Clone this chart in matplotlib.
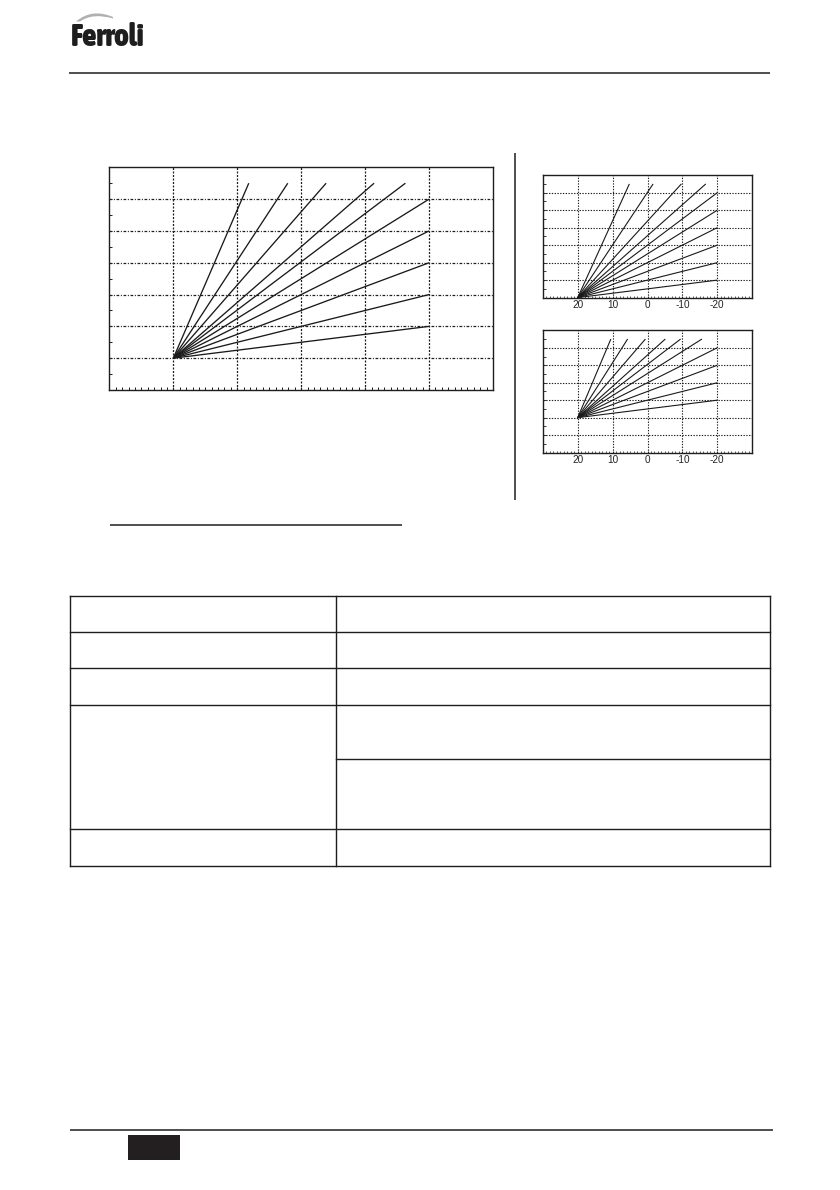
import matplotlib
matplotlib.use("Agg")
import matplotlib.pyplot as plt
from matplotlib import font_manager
from matplotlib.ticker import FixedLocator, MultipleLocator, NullFormatter
from matplotlib.path import Path
from matplotlib.patches import PathPatch

# ---------------- data ----------------
# outdoor temperature axis (reversed), flow temperature axis
x_ticks = [20, 10, 0, -10, -20]
x_tick_labels = ["20", "10", "0", "-10", "-20"]
y_grid = [30, 40, 50, 60, 70, 80]

# main chart: curves start at (20, 30)
main_origin = (20, 30)
main_end_x = [8.2, 2.1, -3.9, -11.4, -16.3, -20, -20, -20, -20, -20]
main_end_y = [85, 85, 85, 85, 85, 80, 70, 60, 50, 40]

# small chart top: curves start at (20, 20)
top_origin = (20, 20)
top_end_x = [5.2, -1.6, -9.7, -16.7, -20, -20, -20, -20, -20, -20]
top_end_y = [85, 85, 85, 85, 80, 70, 60, 50, 40, 30]

# small chart bottom: curves start at (20, 40)
bot_origin = (20, 40)
bot_end_x = [10.5, 5.7, 0.6, -5.1, -9.5, -15.6, -20, -20, -20, -20]
bot_end_y = [85, 85, 85, 85, 85, 85, 80, 70, 60, 50]

logo_text = "Ferroli"

# ---------------- pick a condensed bold font for the logo ----------------
logo_font = None
cands = []
for f in font_manager.fontManager.ttflist:
    n = f.name.lower()
    fn = f.fname.lower()
    if ("condensed" in n or "narrow" in n or "condensed" in fn or "narrow" in fn
            or f.stretch in ("condensed", "semi-condensed", "extra-condensed")):
        w = f.weight if isinstance(f.weight, int) else 700 if "bold" in str(f.weight) else 400
        italic = f.style != "normal"
        cands.append((italic, -w, f.fname))
if cands:
    cands.sort()
    logo_font = cands[0][2]

# ---------------- figure ----------------
W, H = 840, 1190
fig = plt.figure(figsize=(W / 100, H / 100), dpi=100, facecolor="white")

# overlay for page decoration (pixel coordinates)
page = fig.add_axes([0, 0, 1, 1], zorder=0)
page.set_xlim(0, W)
page.set_ylim(H, 0)
page.axis("off")

INK = "#1e1e1e"

# header rule
page.plot([69, 770], [73.3, 73.3], color=INK, lw=1.1, solid_capstyle="butt")
# vertical separator
page.plot([515.3, 515.3], [153.3, 500], color=INK, lw=1.1, solid_capstyle="butt")
# underline below charts
page.plot([109.8, 401.5], [525, 525], color=INK, lw=1.1, solid_capstyle="butt")

# table
tab_l, tab_r, tab_c = 70, 770, 336
row_lines = [596, 632.3, 668.3, 705.3, 829.3, 866]
for yy in row_lines:
    page.plot([tab_l, tab_r], [yy, yy], color=INK, lw=1.0, solid_capstyle="projecting")
page.plot([tab_c, tab_r], [759, 759], color=INK, lw=1.0, solid_capstyle="projecting")
for xx in (tab_l, tab_c, tab_r):
    page.plot([xx, xx], [596, 866], color=INK, lw=1.0, solid_capstyle="projecting")

# footer
page.plot([70, 773], [1130, 1130], color=INK, lw=1.1, solid_capstyle="butt")
page.add_patch(plt.Rectangle((128.3, 1135), 51.2, 25, color="#231f20", lw=0))

# logo swoosh (crescent)
verts = [(76, 21.5), (92, 8.0), (113, 17.0), (113, 18.5), (93, 12.5), (80, 21.5), (76, 21.5)]
codes = [Path.MOVETO, Path.CURVE3, Path.CURVE3, Path.LINETO, Path.CURVE3, Path.CURVE3, Path.CLOSEPOLY]
page.add_patch(PathPatch(Path(verts, codes), facecolor="#b0b0b0", edgecolor="none"))

# logo text
if logo_font:
    fp = font_manager.FontProperties(fname=logo_font, size=24)
else:
    fp = font_manager.FontProperties(family="DejaVu Sans", weight="bold", size=24)
logo = fig.text(70.5 / W, 1 - 45.5 / H, logo_text, fontproperties=fp,
                color="#1e1e1e", va="baseline", ha="left")
fig.canvas.draw()
bb = logo.get_window_extent()
target_w = 144 - 70.5
scale_w = target_w / bb.width
# keep the glyphs tall enough: at most 1.3x wider than the original logo
new_size = 24 * max(scale_w, min(1.0, scale_w * 1.3)) if not logo_font else 24 * scale_w
if not logo_font:
    new_size = 24 * min(1.0, scale_w * 1.3)
logo.set_fontsize(new_size)


def px_axes(l, t, r, b):
    return fig.add_axes([l / W, 1 - b / H, (r - l) / W, (b - t) / H], zorder=2)


def style_axes(ax, small):
    ax.set_xlim(30, -30)
    ax.set_ylim(20, 90)
    ax.set_facecolor("white")
    for s in ax.spines.values():
        s.set_linewidth(1.0)
        s.set_color(INK)
    ax.xaxis.set_major_locator(FixedLocator(x_ticks))
    ax.yaxis.set_major_locator(FixedLocator(y_grid))
    ax.xaxis.set_minor_locator(MultipleLocator(1))
    ax.yaxis.set_minor_locator(FixedLocator([25, 35, 45, 55, 65, 75, 85]))
    ax.yaxis.set_major_formatter(NullFormatter())
    ax.tick_params(axis="both", which="both", direction="in", colors=INK,
                   top=False, right=False)
    if small:
        ax.set_xticklabels(x_tick_labels,
                           fontdict={"family": ["Liberation Sans", "DejaVu Sans"], "size": 7.2})
        ax.tick_params(axis="x", which="major", length=1.5, width=0.6, pad=1.5,
                       labelcolor="#222222")
        ax.tick_params(axis="x", which="minor", length=1.3, width=0.5)
        ax.tick_params(axis="y", which="both", length=1.8, width=0.6)
        ax.xaxis.grid(True, which="major", color=INK, lw=0.8, linestyle=(0, (1.2, 1.3)))
        ax.yaxis.grid(True, which="major", color=INK, lw=0.8, linestyle=(0, (1.2, 1.3)))
    else:
        ax.xaxis.set_major_formatter(NullFormatter())
        ax.tick_params(axis="x", which="major", length=2.4, width=0.7)
        ax.tick_params(axis="x", which="minor", length=2.2, width=0.7)
        ax.tick_params(axis="y", which="both", length=2.4, width=0.7)
        ax.xaxis.grid(True, which="major", color=INK, lw=0.9, linestyle=(0, (1.6, 1.2)))
        ax.yaxis.grid(True, which="major", color=INK, lw=0.9,
                      linestyle=(0, (2.2, 1.3, 0.8, 1.3)))
    ax.set_axisbelow(True)


def draw_curves(ax, origin, ex, ey, lw):
    for xe, ye in zip(ex, ey):
        ax.plot([origin[0], xe], [origin[1], ye], color="#1a1a1a", lw=lw,
                solid_capstyle="butt", clip_on=False, zorder=3)


ax_main = px_axes(109.4, 167.3, 493.0, 390.0)
style_axes(ax_main, small=False)
draw_curves(ax_main, main_origin, main_end_x, main_end_y, 0.95)

ax_top = px_axes(542.8, 175.2, 752.2, 297.6)
style_axes(ax_top, small=True)
draw_curves(ax_top, top_origin, top_end_x, top_end_y, 0.8)

ax_bot = px_axes(542.8, 330.3, 752.2, 452.6)
style_axes(ax_bot, small=True)
draw_curves(ax_bot, bot_origin, bot_end_x, bot_end_y, 0.8)

fig.savefig("out.png", dpi=100, facecolor="white")
